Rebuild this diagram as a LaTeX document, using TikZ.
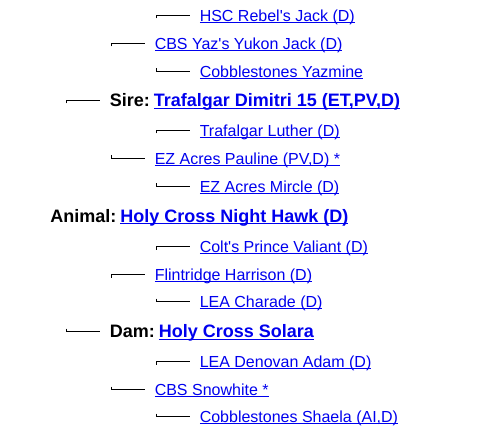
\documentclass[tikz,border=0pt]{standalone}
\usepackage{fontspec}
\setmainfont{Liberation Sans}
\usetikzlibrary{calc}
\definecolor{linkblue}{RGB}{0,0,238}
\newcommand{\mylink}[2][0.75pt]{{\color{linkblue}\setbox0=\hbox{#2}\rlap{\rule[-1.6pt]{\wd0}{#1}}\box0}}
\newcommand{\sq}{\textquotesingle}
\tikzset{
  reg/.style={anchor=base west, inner sep=0pt, font=\fontsize{12pt}{14pt}\selectfont},
  boldrow/.style={anchor=base west, inner sep=0pt, font=\fontsize{13.5pt}{16pt}\selectfont\bfseries},
  conn/.style={line width=0.75pt, black}
}
\begin{document}
\begin{tikzpicture}[x=0.75pt, y=-0.75pt]
\fill[white] (0,0) rectangle (481,438);
\useasboundingbox (0,0) rectangle (481,438);

% nodes
\node[reg] (n0) at (199.5,21.2) {\mylink{HSC Rebel\sq s Jack (D)}};
\node[reg] (n1) at (154.5,49.2) {\mylink{CBS Yaz\sq s Yukon Jack (D)}};
\node[reg] (n2) at (199.5,77.2) {\mylink{Cobblestones Yazmine}};
\node[boldrow] (n3) at (109.5,106.9) {Sire:\hspace{3.0pt}\mylink[1.1pt]{Trafalgar Dimitri 15 (ET,PV,D)}};
\node[reg] (n4) at (199.5,136.2) {\mylink{Trafalgar Luther (D)}};
\node[reg] (n5) at (154.5,164.2) {\mylink{EZ Acres Pauline (PV,D) *}};
\node[reg] (n6) at (199.5,192.2) {\mylink{EZ Acres Mircle (D)}};
\node[boldrow] (n7) at (50,222) {Animal:\hspace{3.0pt}\mylink[1.1pt]{Holy Cross Night Hawk (D)}};
\node[reg] (n8) at (199.5,252.2) {\mylink{Colt\sq s Prince Valiant (D)}};
\node[reg] (n9) at (154.5,280.2) {\mylink{Flintridge Harrison (D)}};
\node[reg] (n10) at (199.5,307.2) {\mylink{LEA Charade (D)}};
\node[boldrow] (n11) at (109.5,337.9) {Dam:\hspace{3.0pt}\mylink[1.1pt]{Holy Cross Solara}};
\node[reg] (n12) at (199.5,367.2) {\mylink{LEA Denovan Adam (D)}};
\node[reg] (n13) at (154.5,395.2) {\mylink{CBS Snowhite *}};
\node[reg] (n14) at (199.5,422.2) {\mylink{Cobblestones Shaela (AI,D)}};

% tick ends of connectors
\coordinate (t0) at (156.5,18.5);
\coordinate (t1) at (111.5,46.5);
\coordinate (t2) at (156.5,68.5);
\coordinate (t3) at (66.5,103.5);
\coordinate (t4) at (156.5,133.5);
\coordinate (t5) at (111.5,155.5);
\coordinate (t6) at (156.5,183.5);
\coordinate (t8) at (156.5,249.5);
\coordinate (t9) at (111.5,277.5);
\coordinate (t10) at (156.5,298.5);
\coordinate (t11) at (66.5,328.5);
\coordinate (t12) at (156.5,364.5);
\coordinate (t13) at (111.5,386.5);
\coordinate (t14) at (156.5,413.5);

% connectors
\foreach \i in {0,1,2,4,5,6,8,9,10,12,13,14}{
  \draw[conn] (t\i) |- ($(n\i.base west)+(-10,-5.7)$);
}
\foreach \i in {3,11}{
  \draw[conn] (t\i) |- ($(n\i.base west)+(-10,-6.4)$);
}
\end{tikzpicture}
\end{document}
